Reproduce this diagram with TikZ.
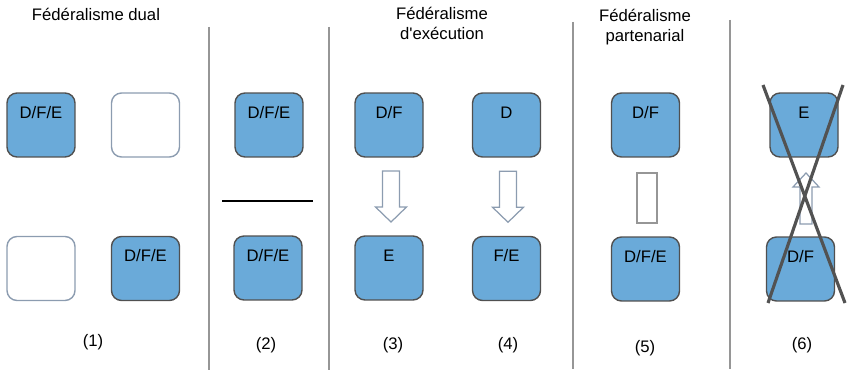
\documentclass[tikz,border=0pt]{standalone}
\usepackage{fontspec}
\usepackage{tikz}
\usetikzlibrary{calc}
\newfontfamily\arialfont{Liberation Sans}
\definecolor{boxblue}{RGB}{106,170,217}
\definecolor{boxedge}{RGB}{80,80,80}
\definecolor{paleedge}{RGB}{140,156,176}
\definecolor{sepgray}{RGB}{150,150,150}
\tikzset{%
    txt/.style={font=\arialfont\fontsize{9.5}{11.4}\selectfont,inner sep=0pt},
    pics/downarr/.style={code={
        \draw[paleedge,line width=0.7pt,fill=white] (-8.5,-25.5) -- (8.5,-25.5) -- (8.5,10.5) -- (15.5,10.5)
            -- (0,25.5) -- (-15.5,10.5) -- (-8.5,10.5) -- cycle;}},
    pics/uparr/.style={code={
        \draw[paleedge,line width=0.7pt,fill=white] (-6,25.5) -- (6,25.5) -- (6,-11.5) -- (13,-11.5)
            -- (0,-25.5) -- (-13,-11.5) -- (-6,-11.5) -- cycle;}}
}

\begin{document}
\begin{tikzpicture}[x=0.02cm,y=-0.02cm,
    box/.style={txt,draw=boxedge,line width=0.8pt,fill=boxblue,rounded corners=0.2cm,
        minimum width=1.36cm,minimum height=1.28cm,text height=0.5cm,text depth=0.78cm},
    emptybox/.style={box,draw=paleedge,fill=white},
    sep/.style={draw=sepgray,line width=0.9pt},
    cross/.style={draw=black!68,line width=1.8pt}]
        \useasboundingbox (0,0) rectangle (851,375);

        % titles
        \node[txt] (t1) at (96,14){Fédéralisme dual};
        \node[txt,align=center] (t3) at (442,23){Fédéralisme\\d'exécution};
        \node[txt,align=center] (t5) at (645,27){Fédéralisme\\partenarial};

        % separators
        \coordinate (s1a) at (209,27); \coordinate (s1b) at (209,370);
        \coordinate (s2a) at (329,27); \coordinate (s2b) at (329,370);
        \coordinate (s3a) at (573,22); \coordinate (s3b) at (573,369);
        \coordinate (s4a) at (730,20); \coordinate (s4b) at (730,369);
        \path[sep] (s1a) edge (s1b) (s2a) edge (s2b) (s3a) edge (s3b) (s4a) edge (s4b);

        % (1)
        \node[box] (a1) at (41,125){D/F/E};
        \node[emptybox] (b1) at (145.5,125){};
        \node[emptybox] (c1) at (41,268.5){};
        \node[box] (d1) at (145.5,268.5){D/F/E};
        \node[txt] (l1) at (93,342){(1)};

        % (2)
        \node[box] (a2) at (269,125){D/F/E};
        \node[box] (b2) at (268,268){D/F/E};
        \coordinate (h1) at (222,201); \coordinate (h2) at (313,201);
        \draw[line width=1.2pt] (h1) -- (h2);
        \node[txt] (l2) at (266,345){(2)};

        % (3) et (4)
        \node[box] (a3) at (389,125){D/F};
        \node[box] (b3) at (389,268){E};
        \pic at ($(a3.south)!0.5!(b3.north)+(2,0)$) {downarr};
        \node[txt] (l3) at (393,345){(3)};
        \node[box] (a4) at (506.5,125){D};
        \node[box] (b4) at (506.5,268.5){F/E};
        \pic at ($(a4.south)!0.5!(b4.north)+(1.5,0)$) {downarr};
        \node[txt] (l4) at (508,345){(4)};

        % (5)
        \node[box] (a5) at (645.5,125){D/F};
        \node[box] (b5) at (645.5,269){D/F/E};
        \node[draw=sepgray,line width=0.8pt,minimum width=0.4cm,minimum height=1cm,inner sep=0pt] (r5) at (647,198){};
        \node[txt] (l5) at (645,348){(5)};

        % (6)
        \node[box] (a6) at (804,125){E};
        \node[box] (b6) at (800.5,269){D/F};
        \pic at (806,198.5) {uparr};
        \coordinate (x1) at (763,85); \coordinate (x2) at (845,303);
        \coordinate (x3) at (843,85); \coordinate (x4) at (768,303);
        \draw[cross] (x1) -- (x2);
        \draw[cross] (x3) -- (x4);
        \node[txt] (l6) at (802,345){(6)};
    \end{tikzpicture}
\end{document}
